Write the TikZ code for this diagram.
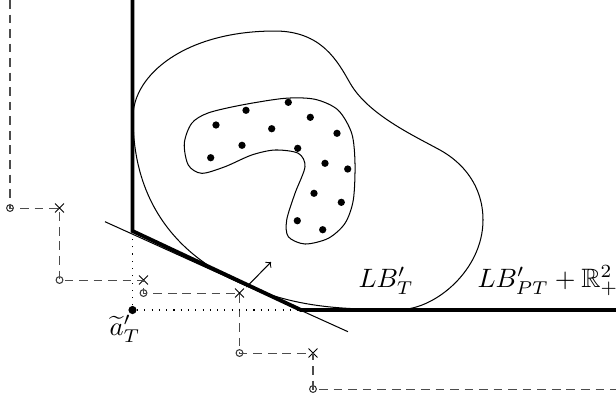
\documentclass[tikz,border=0pt]{standalone}
\usepackage{amssymb}
\usetikzlibrary{shapes.misc}
\begin{document}
\begin{tikzpicture}[x=0.44pt,y=-0.44pt,
    frontiera/.style={line width=1.7pt},
    sottile/.style={line width=0.45pt},
    tratteggio/.style={black!70,line width=0.45pt,dash pattern=on 3.8pt off 2.6pt},
    puntini/.style={line width=0.5pt,dash pattern=on 0.5pt off 2.7pt},
    cerchio/.style={circle,draw,black!80,line width=0.45pt,inner sep=0pt,minimum size=3pt},
    croce/.style={cross out,draw,line width=0.45pt,inner sep=0pt,minimum size=3.5pt},
    punto/.style={circle,fill,inner sep=0pt,minimum size=3.6pt},
    etichetta/.style={inner sep=0pt,anchor=base west,scale=1.17}]

    \useasboundingbox (0,0) rectangle (616,399);

    % Scalinata tratteggiata
    \coordinate (s0) at (10,0);
    \node[cerchio] (o1) at (10,208) {};
    \node[croce] (x1) at (59.5,208) {};
    \node[cerchio] (o2) at (59.5,280) {};
    \node[croce] (x2) at (143.5,280) {};
    \node[cerchio] (o3) at (143.5,293) {};
    \node[croce] (x3) at (239.5,293) {};
    \node[cerchio] (o4) at (239.5,353) {};
    \node[croce] (x4) at (313,353) {};
    \node[cerchio] (o5) at (313,389) {};
    \coordinate (s1) at (616,389);
    \draw[tratteggio] (s0) -- (o1.center) -- (x1.center) -- (o2.center) -- (x2.center)
        -- (o3.center) -- (x3.center) -- (o4.center) -- (x4.center) -- (o5.center) -- (s1);

    % Frontiera
    \coordinate (f0) at (132.5,0);
    \coordinate (k1) at (132.5,231);
    \coordinate (k2) at (301,310);
    \coordinate (f3) at (616,310);
    \draw[frontiera] (f0) -- (k1) -- (k2) -- (f3);

    % Punto e linee punteggiate
    \node[punto] (at) at (132.5,310) {};
    \draw[puntini] (at) -- (k1);
    \draw[puntini] (at) -- (k2);
    \node[scale=1.17] (atl) at (125,329) {$\widetilde{a}'_T$};

    % Tangente e normale
    \coordinate (t0) at (105,221.7);
    \coordinate (t1) at (348,331.7);
    \draw[sottile] (t0) -- (t1);
    \coordinate (n0) at (246.5,287);
    \coordinate (n1) at (271,262);
    \draw[sottile,->] (n0) -- (n1);

    % Regione esterna
    \draw[sottile] (133,117) .. controls (133,75) and (185,31) .. (275,31)
        .. controls (322,31) and (338,62) .. (350,83)
        .. controls (368,114.5) and (413.75,135.6) .. (440,150)
        .. controls (462,162.1) and (483,185) .. (483,220)
        .. controls (483,270) and (435,309.5) .. (400,309.5)
        .. controls (340,309.5) and (294.7,307.7) .. (240,283)
        .. controls (185.3,258.3) and (133,210) .. cycle;

    % Regione interna
    \draw[sottile] plot[smooth cycle] coordinates {
        (184.3,143.3) (191.7,123.3) (208,113) (241.7,105) (285,98.3)
        (315,99.3) (338,110) (351.7,133.3) (355,163.3) (353.3,200)
        (345,223.3) (328.3,238.3) (305,244) (288.3,236.7) (286.7,220)
        (295,193.3) (305,166.7) (298.3,153.3) (275,150) (251.7,155)
        (225,166.7) (201.7,173.3) (188.3,165)};

    % Punti
    \foreach \px/\py in {216/125, 246/110.3, 288.3/102.3, 310.3/117.3, 337/133.3,
        271.7/128.7, 242/145.3, 210.7/157.7, 297.7/148.3, 325/163.3, 347.7/169,
        314/193.3, 341.3/202.3, 297.3/220.7, 322.7/229.7}
        \fill (\px,\py) circle (1.6pt);

    % Etichette
    \node[etichetta] (lbt) at (358,287) {$LB'_T$};
    \node[etichetta] (lbpt) at (477,287) {$LB'_{PT}+\mathbb{R}^2_+$};

\end{tikzpicture}
\end{document}
